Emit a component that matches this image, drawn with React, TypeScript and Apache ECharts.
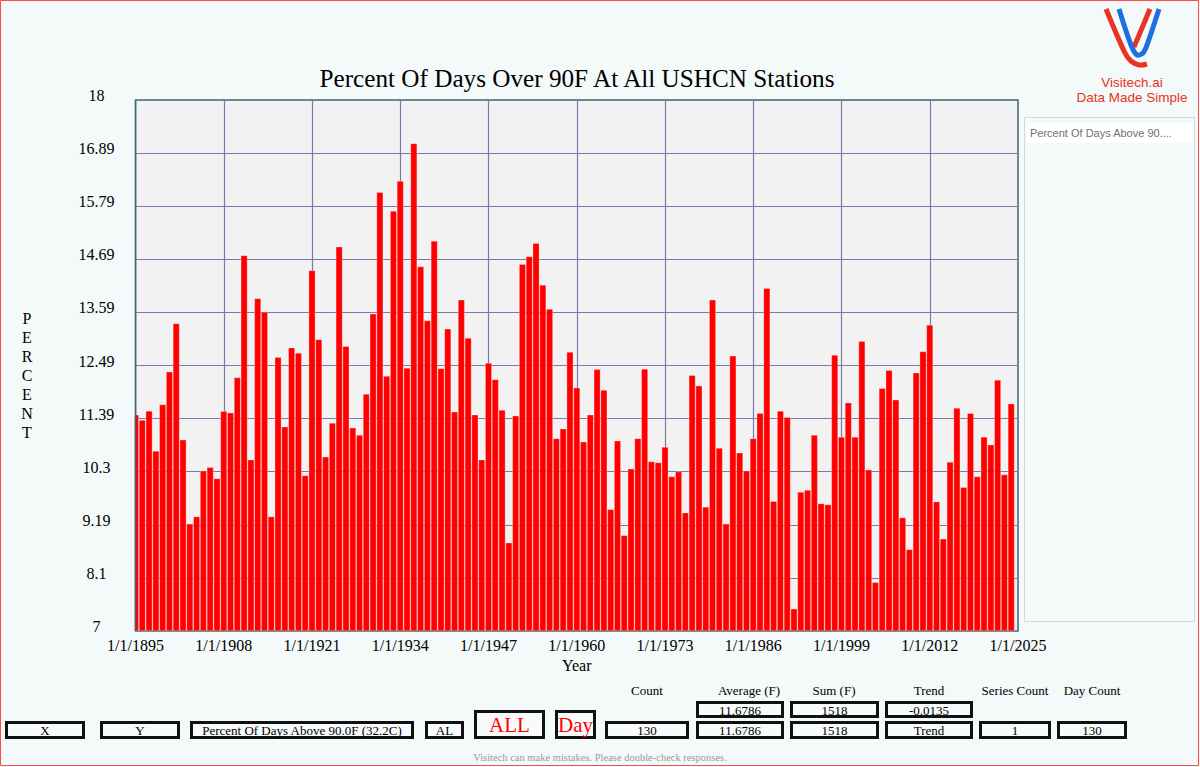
import React, { useEffect, useRef } from "react";
import * as echarts from "echarts";

// Percent of days above 90F, one value per year starting at firstYear
const firstYear = 1895;
const percentOver90 = [
  11.48, 11.37, 11.56, 10.73, 11.69, 12.37, 13.37, 10.96, 9.22, 9.37, // 1895-1904
  10.32, 10.39, 10.16, 11.55, 11.52, 12.25, 14.78, 10.55, 13.89, 13.61, // 1905-1914
  9.37, 12.67, 11.23, 12.87, 12.76, 10.22, 14.47, 13.04, 10.61, 11.31, // 1915-1924
  14.96, 12.9, 11.21, 11.06, 11.91, 13.57, 16.09, 12.28, 15.7, 16.32, // 1925-1934
  12.45, 17.1, 14.55, 13.43, 15.08, 12.44, 13.26, 11.54, 13.86, 13.07, // 1935-1944
  11.48, 10.55, 12.55, 12.21, 11.58, 8.83, 11.46, 14.6, 14.76, 15.03, // 1945-1954
  14.17, 13.67, 10.99, 11.19, 12.78, 12.04, 10.92, 11.48, 12.42, 11.99, // 1955-1964
  9.52, 10.94, 8.98, 10.36, 10.99, 12.43, 10.51, 10.49, 10.81, 10.2, // 1965-1974
  10.3, 9.45, 12.3, 12.08, 9.57, 13.86, 10.79, 9.22, 12.7, 10.69, // 1975-1984
  10.32, 10.99, 11.51, 14.1, 9.69, 11.56, 11.43, 7.46, 9.88, 9.92, // 1985-1994
  11.06, 9.64, 9.62, 12.72, 11.02, 11.73, 11.02, 13.0, 10.34, 8.01, // 1995-2004
  12.03, 12.4, 11.79, 9.35, 8.69, 12.35, 12.79, 13.34, 9.68, 8.91, // 2005-2014
  10.5, 11.62, 9.98, 11.51, 10.2, 11.02, 10.86, 12.2, 10.24, 11.71, // 2015-2024
];

const yTickLabels = ["7", "8.1", "9.19", "10.3", "11.39", "12.49", "13.59", "14.69", "15.79", "16.89", "18"];
const xTickLabels = [
  "1/1/1895", "1/1/1908", "1/1/1921", "1/1/1934", "1/1/1947", "1/1/1960",
  "1/1/1973", "1/1/1986", "1/1/1999", "1/1/2012", "1/1/2025",
];

const yMin = 7;
const yStep = 1.1;
const yMax = 18;
const xStep = 13;
const xSpan = 130; // years from 1/1/firstYear to the right edge

const seriesName = "Percent Of Days Above 90.0F (32.2C)";
const legendLabel = "Percent Of Days Above 90....";

const statHeaders = ["Count", "Average (F)", "Sum (F)", "Trend", "Series Count", "Day Count"];
const statTopRow = ["11.6786", "1518", "-0.0135"];
const statBottomRow = ["130", "11.6786", "1518", "Trend", "1", "130"];
const filterFields = ["X", "Y", "Percent Of Days Above 90.0F (32.2C)", "AL"];
const filterBig = ["ALL", "Day"];

const SERIF = "'Liberation Serif', 'Times New Roman', serif";
const SANS = "'Liberation Sans', Arial, sans-serif";
const PAGE_BG = "#f4f9f9";
const RED = "#ff0000";
const FRAME = "#3e6570";
const GRID_LINE = "#7a7aaa";

const PLOT = { left: 135.5, top: 100, width: 882.5, height: 531 };

function box(x0: number, y0: number, x1: number, y1: number, text: string, color = "#000", size = 13) {
  return [
    {
      type: "rect",
      shape: { x: x0 + 1.5, y: y0 + 1.5, width: x1 - x0 - 3, height: y1 - y0 - 3 },
      style: { fill: "#f8fbfb", stroke: "#111", lineWidth: 3 },
      z: 10,
    },
    {
      type: "text",
      x: (x0 + x1) / 2,
      y: (y0 + y1) / 2 + 0.5,
      style: { text, fill: color, font: `${size}px ${SERIF}`, align: "center", verticalAlign: "middle" },
      z: 11,
    },
  ];
}

function buildGraphics() {
  const g: any[] = [];
  // page frame
  g.push({
    type: "rect",
    shape: { x: 0.5, y: 0.5, width: 1198, height: 765 },
    style: { fill: "none", stroke: "#ff4a4a", lineWidth: 1 },
    z: 1,
  });
  // the first year's bar is centred on the plot's left edge: hide its outer half
  g.push({
    type: "rect",
    shape: { x: PLOT.left - 12, y: PLOT.top - 1, width: 11.25, height: PLOT.height + 2 },
    style: { fill: PAGE_BG },
    z: 50,
  });
  g.push({
    type: "line",
    shape: { x1: PLOT.left, y1: PLOT.top, x2: PLOT.left, y2: PLOT.top + PLOT.height },
    style: { stroke: FRAME, lineWidth: 1.5 },
    z: 51,
  });
  // title
  g.push({
    type: "text",
    x: 577,
    y: 78,
    style: {
      text: "Percent Of Days Over 90F At All USHCN Stations",
      fill: "#000",
      font: `25.2px ${SERIF}`,
      align: "center",
      verticalAlign: "middle",
    },
  });
  // vertical y-axis title
  g.push({
    type: "text",
    x: 27,
    y: 375,
    style: {
      text: "PERCENT".split("").join("\n"),
      fill: "#000",
      font: `16px ${SERIF}`,
      lineHeight: 19,
      align: "center",
      verticalAlign: "middle",
    },
  });
  // legend panel
  g.push({
    type: "rect",
    shape: { x: 1024.5, y: 117.5, width: 170, height: 504 },
    style: { fill: PAGE_BG, stroke: "#d3d8d8", lineWidth: 1 },
    z: 1,
  });
  g.push({
    type: "rect",
    shape: { x: 1027, y: 123, width: 165, height: 20 },
    style: { fill: "#ffffff" },
    z: 2,
  });
  // logo
  g.push({
    type: "polyline",
    shape: { points: [[1106, 9], [1125, 53], [1131, 61], [1139, 65], [1147, 64]], smooth: 0.35 },
    style: { stroke: "#ea3323", lineWidth: 5, fill: "none", lineCap: "butt" },
  });
  g.push({
    type: "polyline",
    shape: { points: [[1150, 9], [1134, 47]] },
    style: { stroke: "#ea3323", lineWidth: 5, fill: "none" },
  });
  g.push({
    type: "polyline",
    shape: { points: [[1119, 9], [1131, 45], [1137, 55], [1143, 53], [1147, 45], [1159, 9]], smooth: 0.3 },
    style: { stroke: "#1f6fe0", lineWidth: 5, fill: "none" },
  });
  g.push({
    type: "text",
    x: 1132,
    y: 82,
    style: { text: "Visitech.ai", fill: "#ea3323", font: `13.5px ${SANS}`, align: "center", verticalAlign: "middle" },
  });
  g.push({
    type: "text",
    x: 1132,
    y: 97,
    style: { text: "Data Made Simple", fill: "#ea3323", font: `13.5px ${SANS}`, align: "center", verticalAlign: "middle" },
  });

  // filter boxes
  const fieldX = [[5, 85], [100, 180], [190, 414], [425, 464]];
  filterFields.forEach((t, i) => g.push(...box(fieldX[i][0], 721, fieldX[i][1], 739, t)));
  const bigX = [[474, 545], [555, 596]];
  filterBig.forEach((t, i) => g.push(...box(bigX[i][0], 710, bigX[i][1], 739, t, RED, 21)));

  // statistics table
  const colX = [[605, 689], [696, 784], [790, 879], [885, 973], [979, 1051], [1057, 1127]];
  const headerX = [647, 749, 834, 929, 1015, 1092];
  statHeaders.forEach((t, i) =>
    g.push({
      type: "text",
      x: headerX[i],
      y: 690,
      style: { text: t, fill: "#000", font: `13px ${SERIF}`, align: "center", verticalAlign: "middle" },
    })
  );
  statTopRow.forEach((t, i) => g.push(...box(colX[i + 1][0], 701, colX[i + 1][1], 718, t)));
  statBottomRow.forEach((t, i) => g.push(...box(colX[i][0], 721, colX[i][1], 739, t)));

  g.push({
    type: "text",
    x: 600,
    y: 757,
    style: {
      text: "Visitech can make mistakes. Please double-check responses.",
      fill: "#9a9a9a",
      font: `10.5px ${SERIF}`,
      align: "center",
      verticalAlign: "middle",
    },
  });
  return g;
}

export default function App() {
  const ref = useRef<HTMLDivElement>(null);

  useEffect(() => {
    if (!ref.current) return;
    const chart = echarts.init(ref.current, null, { renderer: "svg" });
    chart.setOption({
      animation: false,
      backgroundColor: PAGE_BG,
      legend: {
        show: true,
        left: 1019,
        top: 122,
        itemWidth: 0,
        itemHeight: 0,
        selectedMode: false,
        formatter: () => legendLabel,
        textStyle: { fontFamily: SANS, fontSize: 11, color: "#7a6e64" },
        data: [{ name: seriesName, icon: "rect" }],
      },
      grid: {
        left: PLOT.left,
        top: PLOT.top,
        width: PLOT.width,
        height: PLOT.height,
        show: true,
        backgroundColor: "#f2f2f2",
        borderColor: FRAME,
        borderWidth: 1.5,
        containLabel: false,
      },
      xAxis: {
        type: "value",
        min: 0,
        max: xSpan,
        interval: xStep,
        name: "Year",
        nameLocation: "middle",
        nameGap: 24,
        nameTextStyle: { fontFamily: SERIF, fontSize: 16, color: "#000" },
        axisLine: { show: false },
        axisTick: { show: false },
        axisLabel: {
          margin: 6,
          fontFamily: SERIF,
          fontSize: 16,
          color: "#000",
          formatter: (v: number) => xTickLabels[Math.round(v / xStep)] ?? "",
        },
        splitLine: {
          show: true,
          showMinLine: false,
          showMaxLine: false,
          lineStyle: { color: GRID_LINE, width: 1.2 },
        },
      },
      yAxis: {
        type: "value",
        min: 0,
        max: yMax - yMin,
        interval: yStep,
        axisLine: { show: false },
        axisTick: { show: false },
        axisLabel: {
          margin: 39,
          align: "center",
          verticalAlign: "bottom",
          lineHeight: 9,
          fontFamily: SERIF,
          fontSize: 16,
          color: "#000",
          formatter: (v: number) => yTickLabels[Math.round(v / yStep)] ?? "",
        },
        splitLine: {
          show: true,
          showMinLine: false,
          showMaxLine: false,
          lineStyle: { color: GRID_LINE, width: 1.2 },
        },
      },
      series: [
        {
          name: seriesName,
          type: "bar",
          clip: true,
          barWidth: 6.6,
          itemStyle: { color: RED, borderColor: "rgba(255,255,255,0.55)", borderWidth: 0.5 },
          data: percentOver90.map((v, i) => [i, v - yMin]),
        },
      ],
      graphic: buildGraphics(),
    });
    return () => chart.dispose();
  }, []);

  return (
    <div
      ref={ref}
      style={{ position: "absolute", left: 0, top: 0, width: 1200, height: 767 }}
    />
  );
}
